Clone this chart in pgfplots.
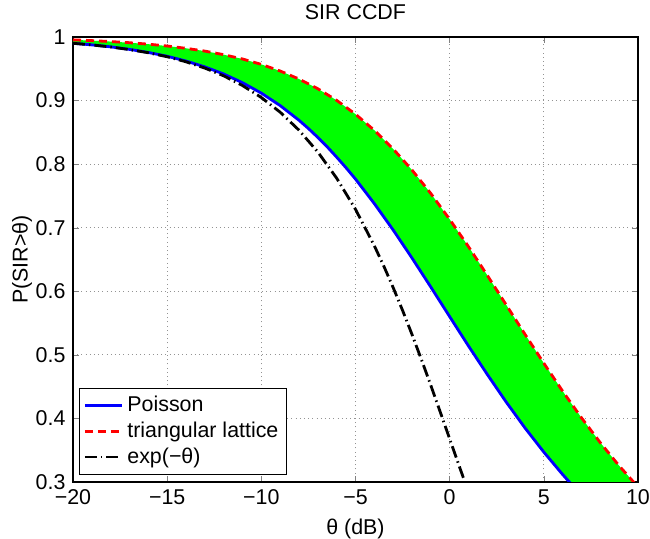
\documentclass[border=0pt]{standalone}
\usepackage{fontspec}
\setmainfont{Liberation Sans}
\usepackage{pgfplots}
\pgfplotsset{compat=1.18}
\usepgfplotslibrary{fillbetween}
\definecolor{mgreen}{RGB}{0,255,0}

\begin{document}
\fontsize{10.7}{12}\selectfont
\begin{tikzpicture}
\begin{axis}[
    name=ax,
    scale only axis,
    width=282.5pt, height=222.5pt,
    xmin=-20, xmax=10, ymin=0.3, ymax=1,
    xtick={-20,-15,...,10},
    xticklabels={−20,−15,−10,−5,0,5,10},
    ytick={0.3,0.4,...,1.0},
    yticklabels={0.3,0.4,0.5,0.6,0.7,0.8,0.9,1},
    tick align=inside,
    major tick length=3pt,
    grid=major,
    major grid style={dash pattern=on 0.5pt off 1.6pt, gray!85, line width=0.45pt},
    axis line style={line width=0.6pt},
    title={SIR CCDF},
    xlabel={θ (dB)},
    ylabel={P(SIR>θ)},
    every axis title/.style={at={(axis description cs:0.5,1.056)}, anchor=center},
    every axis x label/.style={at={(axis description cs:0.5,-0.105)}, anchor=center},
    every axis y label/.style={at={(axis description cs:-0.09,0.5)}, anchor=center, rotate=90},
    every tick label/.append style={font=\fontsize{10.7}{12}\selectfont},
    legend style={at={(0.0106,0.0157)}, anchor=south west, draw=black,
        line width=0.6pt, font=\fontsize{10.7}{12}\selectfont,
        row sep=-0.5pt, inner sep=2pt},
    legend cell align=left,
    legend image code/.code={\draw[#1] (0cm,0cm) -- (0.65cm,0cm);},
]
% Poisson
\addplot[blue, line width=1.4pt, name path=P] coordinates {
 (-20,0.9901) (-19,0.9876) (-18,0.9845) (-17,0.9805) (-16,0.9757)
 (-15,0.9697) (-14,0.9622) (-13,0.9530) (-12,0.9418) (-11,0.9281)
 (-10,0.9117) (-9,0.8921) (-8,0.8690) (-7.5,0.8560) (-7,0.8420)
 (-6.5,0.8271) (-6,0.8110) (-5.5,0.7942)
 (-5,0.7765) (-4,0.7379) (-3,0.6964) (-2,0.6523) (-1,0.6066)
 (0,0.5601) (1,0.5139) (2,0.4691) (3,0.4258) (4,0.3850)
 (5,0.3470) (6,0.3117) (6.5,0.2953) (7,0.2796)
};
\addlegendentry{Poisson}
% triangular lattice
\addplot[red, line width=1.4pt, dash pattern=on 4pt off 2.5pt, name path=L] coordinates {
 (-20,0.9955) (-19,0.9943) (-18,0.9928) (-17,0.9910) (-16,0.9887)
 (-15,0.9858) (-14,0.9822) (-13,0.9778) (-12,0.9722) (-11,0.9654)
 (-10,0.9569) (-9,0.9465) (-8,0.9339) (-7,0.9186) (-6,0.9003)
 (-5,0.8786) (-4,0.8532) (-3,0.8239) (-2,0.7907) (-1,0.7538)
 (0,0.7131) (1,0.6702) (2,0.6250) (3,0.5787) (4,0.5323)
 (5,0.4868) (6,0.4428) (7,0.4009) (8,0.3618) (9,0.3254) (10,0.2922)
};
\addlegendentry{triangular lattice}
% exp(-theta)
\addplot[black, line width=1.4pt, dash pattern=on 6pt off 2pt on 0.75pt off 2pt] coordinates {
 (-20,0.9901) (-19,0.9875) (-18,0.9843) (-17,0.9802) (-16,0.9752)
 (-15,0.9689) (-14,0.9610) (-13,0.9511) (-12,0.9389) (-11,0.9236)
 (-10,0.9048) (-9,0.8817) (-8,0.8534) (-7,0.8191) (-6,0.7779)
 (-5,0.7289) (-4,0.6716) (-3.5,0.6398) (-3,0.6058) (-2.5,0.5699)
 (-2,0.5321) (-1.5,0.4926) (-1,0.4519) (-0.5,0.4101) (0,0.3679)
 (0.5,0.3256) (1,0.2840)
};
\addlegendentry{exp(−θ)}
\addplot[mgreen] fill between[of=P and L];
\end{axis}
\pgfresetboundingbox
\path ([xshift=-36.5pt, yshift=-28.5pt]ax.south west) rectangle ([xshift=6pt, yshift=18.5pt]ax.north east);
\end{tikzpicture}
\end{document}
